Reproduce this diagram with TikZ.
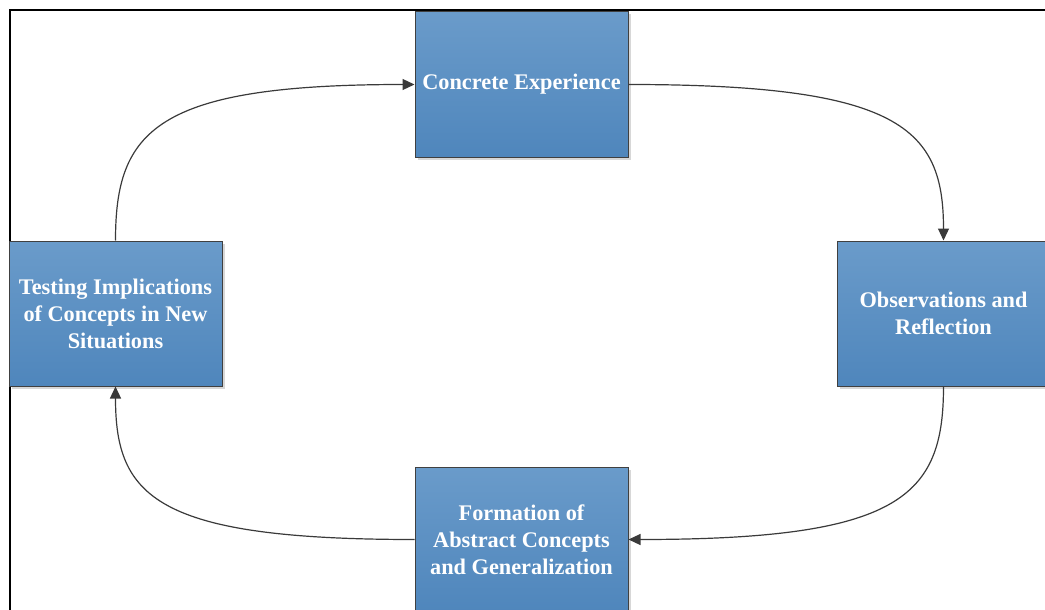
\documentclass[tikz,border=0pt]{standalone}
\usepackage{fontspec}
\setmainfont{Liberation Serif}
\usetikzlibrary{arrows.meta,positioning,shadows}
\definecolor{kolbtop}{HTML}{6A9BCA}
\definecolor{kolbbottom}{HTML}{4F86BC}
\definecolor{kolbedge}{HTML}{404040}
\definecolor{kolbline}{HTML}{3A3A3A}

\begin{document}
\begin{tikzpicture}[
    x=1pt, y=1pt,
    every node/.style={align=center, font=\bfseries\fontsize{22.3}{27}\selectfont},
    stage/.style={draw=kolbedge, line width=1pt, top color=kolbtop, bottom color=kolbbottom, text=white,
        minimum width=213pt, minimum height=145pt, inner sep=0pt,
        drop shadow={shadow xshift=2.5pt, shadow yshift=-2.5pt, fill=black!35, opacity=0.45}},
    arrow/.style={-{Triangle[length=12pt, width=11pt]}, kolbline, line width=1.2pt}
]
    \useasboundingbox (0,0) rectangle (1045,-610);
    \clip (0,0) rectangle (1045,-610);
    % outer frame, only its top and left edges fall on the page
    \draw[line width=1.6pt] (10,-700) |- (1100,-10);

    \node[stage] (concrete) at (521.5,-84.5) {Concrete Experience};
    \node[stage, below right=83pt and 208pt of concrete] (observ) {Observations and\\Reflection};
    \node[stage, below left=80pt and 208pt of observ] (formation) {Formation of\\Abstract Concepts\\and Generalization};
    \node[stage, above left=80pt and 192pt of formation] (testing) {Testing Implications\\of Concepts in New\\Situations};

    \draw[arrow] (concrete.east) .. controls +(272,0) and +(0,112) .. (observ.north);
    \draw[arrow] (observ.south) .. controls +(0,-110) and +(272,0) .. (formation.east);
    \draw[arrow] (formation.west) .. controls +(-259,0) and +(0,-110) .. (testing.south);
    \draw[arrow] (testing.north) .. controls +(0,110) and +(-259,0) .. (concrete.west);
\end{tikzpicture}
\end{document}
